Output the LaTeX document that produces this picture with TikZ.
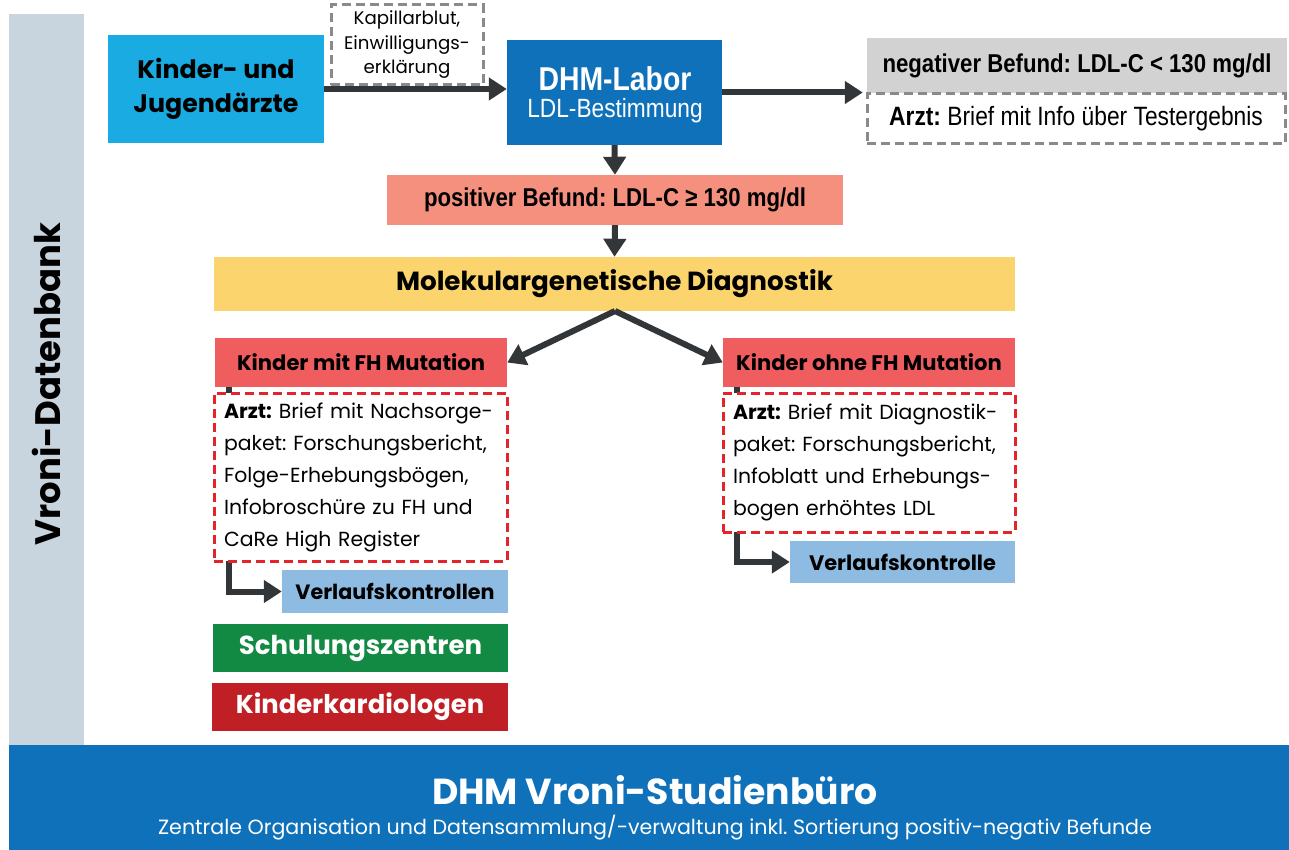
\documentclass[tikz,border=0pt]{standalone}
\usepackage{fontspec}
\setmainfont{Poppins}
\newfontfamily\narrow[FakeStretch=0.86]{Liberation Sans}
\usetikzlibrary{arrows.meta,positioning}
\pgfdeclarelayer{bg}
\pgfsetlayers{bg,main}
\definecolor{barGray}{HTML}{C8D5DE}
\definecolor{dhmBlue}{HTML}{0E71BA}
\definecolor{cyanBox}{HTML}{1AABE2}
\definecolor{negGray}{HTML}{D2D2D2}
\definecolor{salmon}{HTML}{F4907D}
\definecolor{yellowBox}{HTML}{FCD46D}
\definecolor{redBox}{HTML}{F05D5F}
\definecolor{redDash}{HTML}{E3242B}
\definecolor{lightBlue}{HTML}{8DBBE1}
\definecolor{greenBox}{HTML}{138A43}
\definecolor{darkRed}{HTML}{C01F26}
\definecolor{arrowGray}{HTML}{333639}
\definecolor{dashGray}{HTML}{8A8A8A}
\tikzset{
  box/.style={inner sep=0pt, align=center, anchor=center},
  arr/.style={draw=arrowGray, line width=6pt, -{Triangle[length=18pt,width=22pt]}},
  graydash/.style={draw=dashGray, line width=3pt, dash pattern=on 9pt off 5pt, fill=white},
  reddash/.style={draw=redDash, line width=3pt, dash pattern=on 9pt off 5pt, fill=white},
}
\begin{document}
\frenchspacing
\begin{tikzpicture}[x=1pt,y=-1pt]
\useasboundingbox (0,0) rectangle (1289,850);
% side bar and bottom bar
\node[box, fill=barGray, minimum width=75pt, minimum height=731pt] (bar) at (46.5,379.5) {};
\node[box, rotate=90, font=\fontsize{35.4}{40}\selectfont\bfseries] (bartext) at (46.5,384) {Vroni-Datenbank};
\node[box, fill=dhmBlue, minimum width=1280pt, minimum height=105pt] (bottom) at (649,797.5) {};
\node[box, text=white, font=\fontsize{36.2}{40}\selectfont\bfseries] (bottitle) at (655,790) {DHM Vroni-Studienbüro};
\node[box, text=white, font=\fontsize{20.6}{22}\selectfont] (botsub) at (655,828) {Zentrale Organisation und Datensammlung/-verwaltung inkl. Sortierung positiv-negativ Befunde};

% top row
\node[box, fill=cyanBox, minimum width=216pt, minimum height=108pt, font=\fontsize{25.3}{34}\selectfont\bfseries] (kinder) at (216,89) {Kinder- und\\Jugendärzte};
\node[box, graydash, minimum width=152pt, minimum height=80pt, font=\fontsize{18.2}{24.5}\selectfont] (kap) at (407,45) {Kapillarblut,\\Einwilligungs-\\erklärung};
\node[box, fill=dhmBlue, minimum width=215pt, minimum height=105pt] (labor) at (614.5,92.5) {};
\node[box, text=white, font=\narrow\fontsize{33}{36}\selectfont\bfseries] (labortitle) at (615,79) {DHM-Labor};
\node[box, text=white, font=\narrow\fontsize{26.4}{30}\selectfont] (laborsub) at (615,111) {LDL-Bestimmung};
\node[box, fill=negGray, minimum width=420pt, minimum height=55pt, font=\narrow\fontsize{25.8}{28}\selectfont\bfseries] (neg) at (1077,65.5) {negativer Befund: LDL-C < 130 mg/dl};
\node[box, graydash, minimum width=418pt, minimum height=50pt, font=\narrow\fontsize{26.5}{28}\selectfont] (negarzt) at (1076,119) {\textbf{Arzt:} Brief mit Info über Testergebnis};

% middle
\node[box, fill=salmon, minimum width=456pt, minimum height=50pt, font=\narrow\fontsize{25.8}{28}\selectfont\bfseries] (pos) at (615,200) {positiver Befund: LDL-C ≥ 130 mg/dl};
\node[box, fill=yellowBox, minimum width=801pt, minimum height=54pt, font=\fontsize{26.2}{30}\selectfont\bfseries] (mol) at (614.5,284) {Molekulargenetische Diagnostik};
\coordinate (fork) at (615,311);

% left branch
\node[box, fill=redBox, minimum width=292pt, minimum height=49pt, font=\fontsize{21.1}{24}\selectfont\bfseries] (mit) at (361,362.5) {Kinder mit FH Mutation};
\node[box, reddash, minimum width=293pt, minimum height=168pt, align=left, text width=273pt, font=\fontsize{20.4}{32}\selectfont] (mitarzt) at (360.5,477) {\textbf{Arzt:} Brief mit Nachsorge-\\paket: Forschungsbericht,\\Folge-Erhebungsbögen,\\Infobroschüre zu FH und\\CaRe High Register};
\node[box, fill=lightBlue, minimum width=226pt, minimum height=43pt, font=\fontsize{20.7}{24}\selectfont\bfseries] (verl1) at (395,591.5) {Verlaufskontrollen};
\node[box, fill=greenBox, minimum width=295pt, minimum height=48pt, text=white, font=\fontsize{26}{28}\selectfont\bfseries] (schul) at (360.5,648) {Schulungszentren};
\node[box, fill=darkRed, minimum width=296pt, minimum height=48pt, text=white, font=\fontsize{25.8}{28}\selectfont\bfseries] (kard) at (360,707) {Kinderkardiologen};

% right branch
\node[box, fill=redBox, minimum width=292pt, minimum height=49pt, font=\fontsize{21.1}{24}\selectfont\bfseries] (ohne) at (869,362.5) {Kinder ohne FH Mutation};
\node[box, reddash, minimum width=292pt, minimum height=139pt, align=left, text width=272pt, font=\fontsize{20.4}{32}\selectfont] (ohnearzt) at (869,462.5) {\textbf{Arzt:} Brief mit Diagnostik-\\paket: Forschungsbericht,\\Infoblatt und Erhebungs-\\bogen erhöhtes LDL};
\node[box, fill=lightBlue, minimum width=225pt, minimum height=42pt, font=\fontsize{20.9}{24}\selectfont\bfseries] (verl2) at (902.5,562) {Verlaufskontrolle};

% connectors
\draw[arr] (kinder.east) -- (labor.west |- kinder.east);
\draw[arr] (labor.east) -- ([xshift=-4pt]neg.west |- labor.east);
\draw[arr] (labor.south) -- (pos.north);
\draw[arr] (pos.south) -- (mol.north);
\draw[arr] (fork) -- (mit.east);
\draw[arr] (fork) -- (ohne.west);
\begin{pgfonlayer}{bg}
\draw[arr] ([xshift=14pt]mit.south west) |- (verl1.west);
\draw[arr] ([xshift=14pt]ohne.south west) |- (verl2.west);
\end{pgfonlayer}
\end{tikzpicture}
\end{document}
